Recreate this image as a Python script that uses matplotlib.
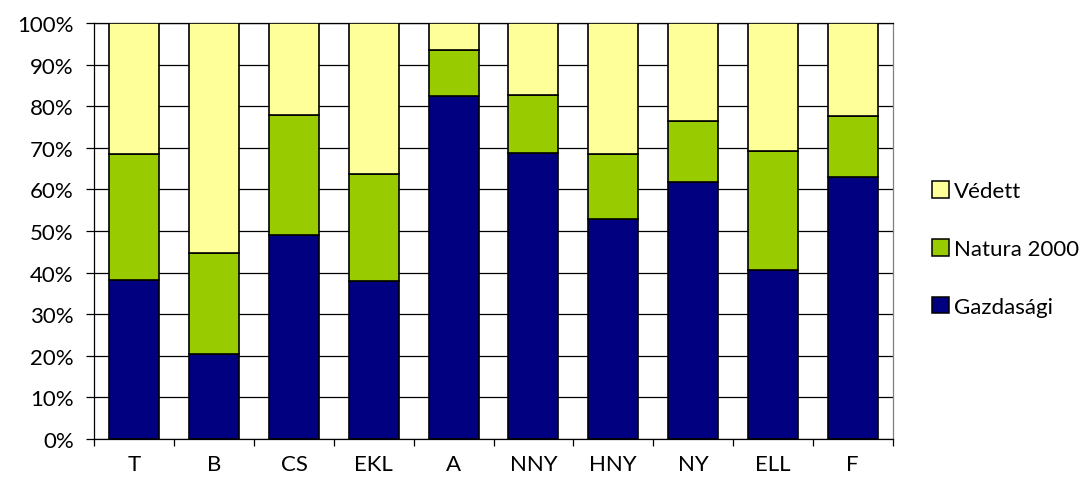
import matplotlib
matplotlib.use("Agg")
import matplotlib.pyplot as plt
import matplotlib.patches as patches
import numpy as np

# ----------------------------------------------------------------------------
# Data: share of each land-use category per region (percent)
# ----------------------------------------------------------------------------
regions = ["T", "B", "CS", "EKL", "A", "NNY", "HNY", "NY", "ELL", "F"]
gazdasagi = [38.2, 20.4, 49.1, 38.0, 82.5, 68.7, 53.0, 61.8, 40.6, 62.9]
natura = [30.3, 24.2, 28.9, 25.8, 10.9, 14.1, 15.4, 14.6, 28.7, 14.7]
vedett = [31.5, 55.4, 22.0, 36.2, 6.6, 17.2, 31.6, 23.6, 30.7, 22.4]

series_names = ["Gazdasági", "Natura 2000", "Védett"]
series_colors = ["#000080", "#99CC00", "#FFFF99"]

plt.rcParams["font.family"] = ["Lato", "DejaVu Sans"]
FONT_SIZE = 16

fig = plt.figure(figsize=(10.91, 4.81), dpi=100)
ax = fig.add_axes([0.0866, 0.0852, 0.7316, 0.8649])

x = np.arange(len(regions))
bottom = np.zeros(len(regions))
handles = []
for name, vals, col in zip(series_names, [gazdasagi, natura, vedett], series_colors):
    vals = np.array(vals)
    ax.bar(x, vals, width=0.627, bottom=bottom, color=col,
           edgecolor="black", linewidth=1.2, zorder=3)
    bottom += vals
    handles.append(patches.Patch(facecolor=col, edgecolor="black", linewidth=1.1, label=name))

ax.set_xlim(-0.5, len(regions) - 0.5)
ax.set_ylim(0, 100)

# horizontal gridlines
ax.set_yticks(np.arange(0, 101, 10))
ax.set_yticklabels([f"{v}%" for v in range(0, 101, 10)], fontsize=FONT_SIZE)
ax.yaxis.grid(True, color="black", linewidth=0.9, zorder=0)
ax.tick_params(axis="y", direction="out", length=6, width=0.9, pad=9)

# category labels centred, tick marks between categories
ax.set_xticks(x)
ax.set_xticklabels(regions, fontsize=FONT_SIZE)
ax.set_xticks(np.arange(-0.5, len(regions)), minor=True)
ax.tick_params(axis="x", which="major", length=0, pad=11)
ax.tick_params(axis="x", which="minor", direction="out", length=5, width=0.9)

ax.spines["left"].set_color("black")
ax.spines["bottom"].set_color("black")
ax.spines["top"].set_color("black")
ax.spines["right"].set_color("#808080")
for s in ax.spines.values():
    s.set_linewidth(0.9)

leg = fig.legend(handles=handles[::-1], loc="center left",
                 bbox_to_anchor=(0.836, 0.48), frameon=False,
                 fontsize=FONT_SIZE, handlelength=0.75, handleheight=0.75,
                 handletextpad=0.25, labelspacing=1.7)

fig.savefig("out.png", dpi=100)
